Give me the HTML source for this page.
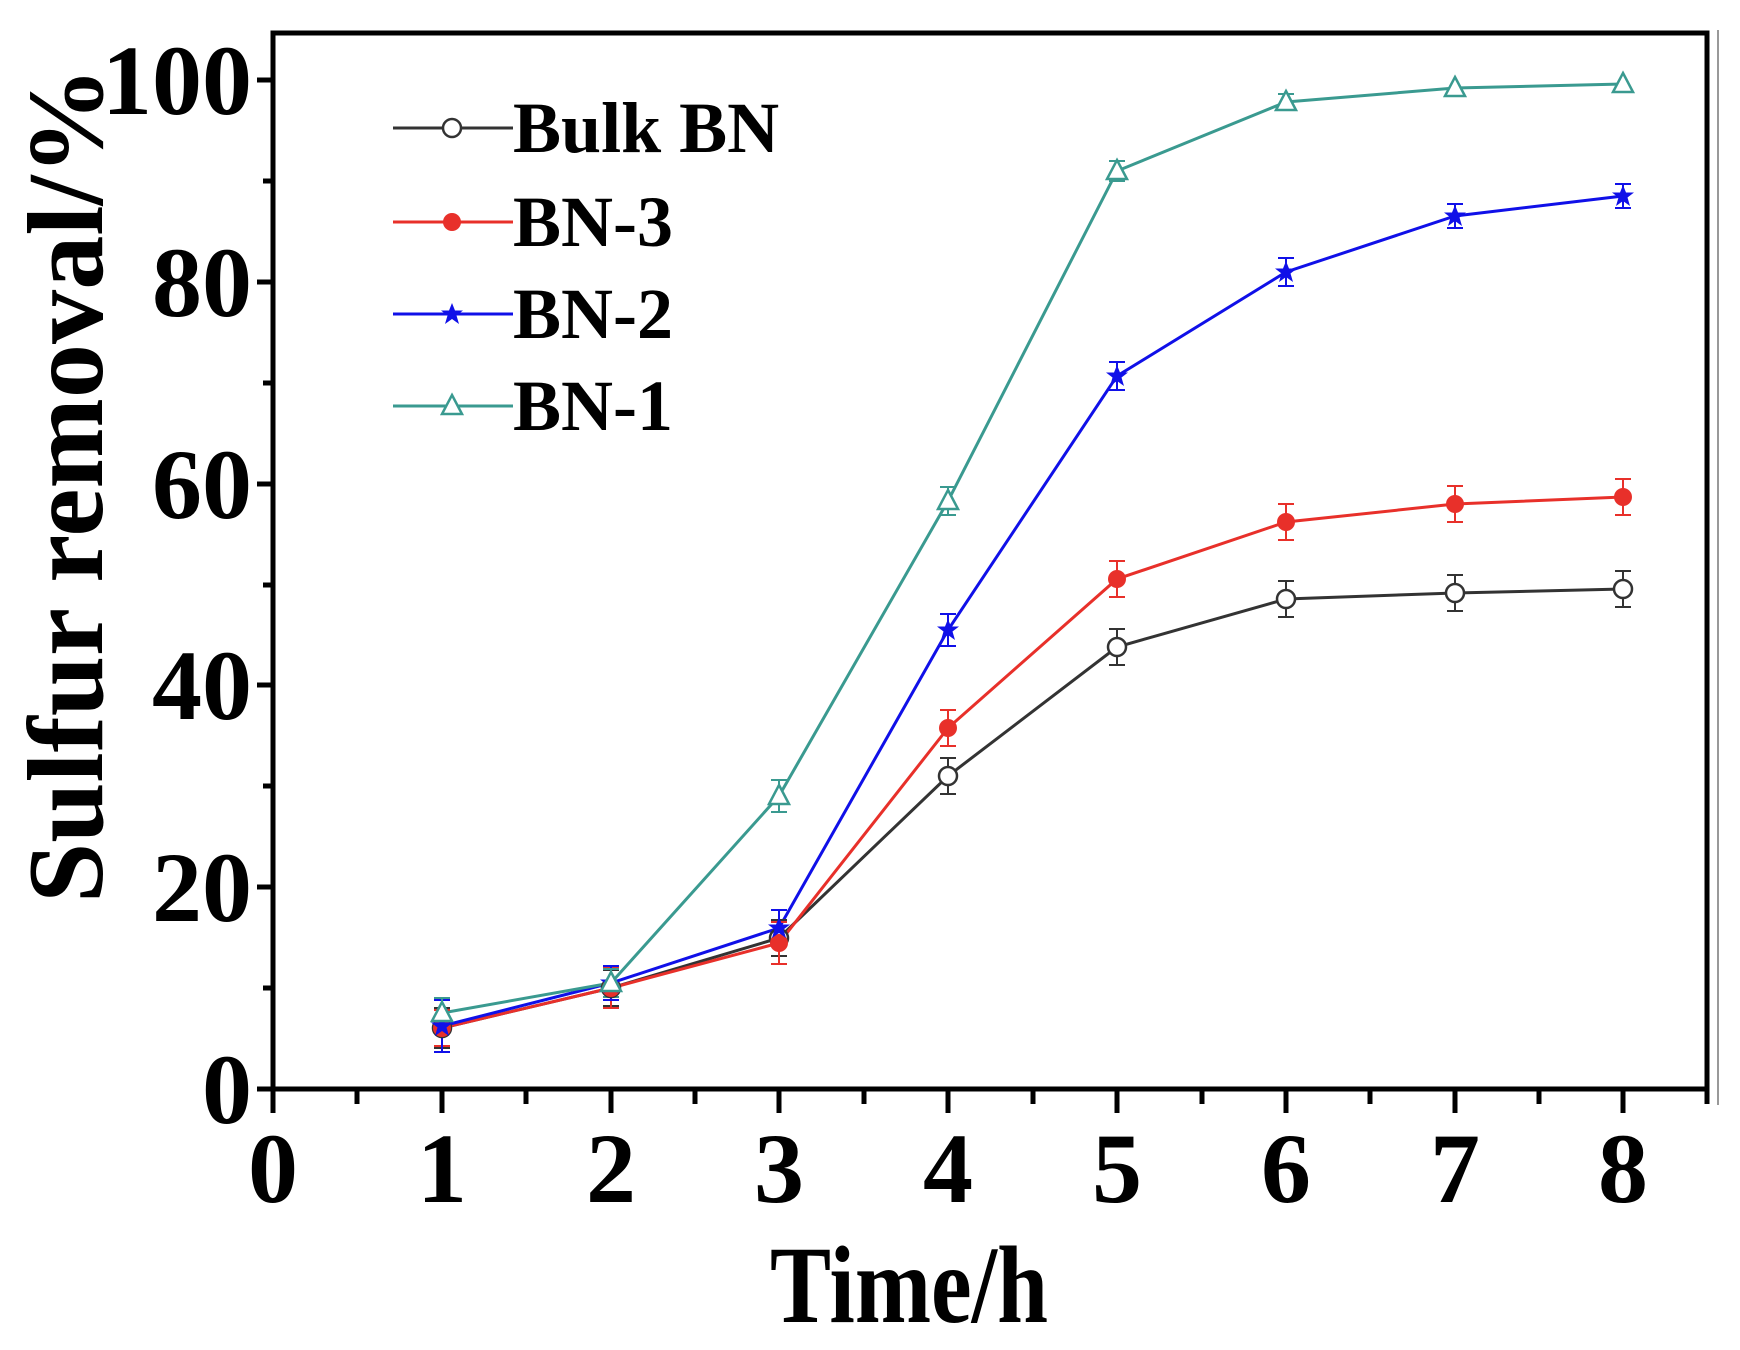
<!DOCTYPE html>
<html><head><meta charset="utf-8"><style>
html,body{margin:0;padding:0;background:#fff;}
svg{display:block;font-family:"Liberation Serif",serif;font-weight:bold;}
</style></head><body>
<svg width="1740" height="1350" viewBox="0 0 1740 1350" xmlns="http://www.w3.org/2000/svg">
<defs>
<g id="mc"><circle r="9" fill="#fff" stroke="#333" stroke-width="2.5"/></g>
<g id="mr"><circle r="9" fill="#e8302a"/></g>
<g id="mb"><polygon points="0,-11 3,-3.5 11,-3.5 4.5,1.5 7,10 0,5 -7,10 -4.5,1.5 -11,-3.5 -3,-3.5" fill="#1010e8"/></g>
<g id="mt"><polygon points="0,-11 10,8 -10,8" fill="#fff" stroke="#3a9a90" stroke-width="2.5"/></g>
</defs>
<line x1="1718" y1="30" x2="1718" y2="1105" stroke="#999" stroke-width="2"/>
<rect x="273" y="33" width="1434" height="1056" fill="none" stroke="#000" stroke-width="5"/>
<g stroke="#000" stroke-width="5">
<line x1="257" y1="1089" x2="273" y2="1089"/><line x1="257" y1="887" x2="273" y2="887"/><line x1="257" y1="685" x2="273" y2="685"/><line x1="257" y1="484" x2="273" y2="484"/><line x1="257" y1="282" x2="273" y2="282"/><line x1="257" y1="80" x2="273" y2="80"/>
<line x1="263" y1="988" x2="273" y2="988"/><line x1="263" y1="786" x2="273" y2="786"/><line x1="263" y1="585" x2="273" y2="585"/><line x1="263" y1="383" x2="273" y2="383"/><line x1="263" y1="181" x2="273" y2="181"/>
<line x1="273" y1="1089" x2="273" y2="1113"/><line x1="442" y1="1089" x2="442" y2="1113"/><line x1="611" y1="1089" x2="611" y2="1113"/><line x1="779" y1="1089" x2="779" y2="1113"/><line x1="948" y1="1089" x2="948" y2="1113"/><line x1="1117" y1="1089" x2="1117" y2="1113"/><line x1="1286" y1="1089" x2="1286" y2="1113"/><line x1="1455" y1="1089" x2="1455" y2="1113"/><line x1="1623" y1="1089" x2="1623" y2="1113"/>
<line x1="357" y1="1089" x2="357" y2="1104"/><line x1="526" y1="1089" x2="526" y2="1104"/><line x1="695" y1="1089" x2="695" y2="1104"/><line x1="864" y1="1089" x2="864" y2="1104"/><line x1="1033" y1="1089" x2="1033" y2="1104"/><line x1="1202" y1="1089" x2="1202" y2="1104"/><line x1="1370" y1="1089" x2="1370" y2="1104"/><line x1="1539" y1="1089" x2="1539" y2="1104"/><line x1="1707" y1="1089" x2="1707" y2="1104"/>
</g>
<g font-size="100" text-anchor="end" fill="#000">
<text x="252" y="1123">0</text><text x="252" y="921">20</text><text x="252" y="719">40</text><text x="252" y="518">60</text><text x="252" y="316">80</text><text x="252" y="114">100</text>
</g>
<g font-size="100" text-anchor="middle" fill="#000">
<text x="273" y="1202">0</text><text x="442" y="1202">1</text><text x="611" y="1202">2</text><text x="779" y="1202">3</text><text x="948" y="1202">4</text><text x="1117" y="1202">5</text><text x="1286" y="1202">6</text><text x="1455" y="1202">7</text><text x="1623" y="1202">8</text>
</g>
<text x="770" y="1322" font-size="110" textLength="278" lengthAdjust="spacingAndGlyphs">Time/h</text>
<text transform="translate(102,903) rotate(-90)" font-size="108" textLength="836" lengthAdjust="spacingAndGlyphs">Sulfur removal/%</text>

<g fill="none" stroke-width="3">
<polyline stroke="#333" points="442,1028 611,988 779,938 948,776 1117,647 1286,599 1455,593 1623,589"/>
<polyline stroke="#e8302a" points="442,1028 611,988 779,943 948,728 1117,579 1286,522 1455,504 1623,497"/>
<polyline stroke="#1010e8" points="442,1026 611,983 779,928 948,630 1117,376 1286,272 1455,216 1623,196"/>
<polyline stroke="#3a9a90" points="442,1013 611,983 779,796 948,501 1117,171 1286,102 1455,88 1623,84"/>
</g>
<g stroke-width="2">
<path stroke="#333" d="M442,1008v40M434,1008h16M434,1048h16 M611,970v36M603,970h16M603,1006h16 M779,920v36M771,920h16M771,956h16 M948,758v36M940,758h16M940,794h16 M1117,629v36M1109,629h16M1109,665h16 M1286,581v36M1278,581h16M1278,617h16 M1455,575v36M1447,575h16M1447,611h16 M1623,571v36M1615,571h16M1615,607h16"/>
<path stroke="#e8302a" d="M442,1010v36M434,1010h16M434,1046h16 M611,968v40M603,968h16M603,1008h16 M779,922v42M771,922h16M771,964h16 M948,710v36M940,710h16M940,746h16 M1117,561v36M1109,561h16M1109,597h16 M1286,504v36M1278,504h16M1278,540h16 M1455,486v36M1447,486h16M1447,522h16 M1623,479v36M1615,479h16M1615,515h16"/>
<path stroke="#1010e8" d="M442,1000v52M434,1000h16M434,1052h16 M611,966v34M603,966h16M603,1000h16 M779,910v36M771,910h16M771,946h16 M948,614v32M940,614h16M940,646h16 M1117,362v28M1109,362h16M1109,390h16 M1286,258v28M1278,258h16M1278,286h16 M1455,204v24M1447,204h16M1447,228h16 M1623,184v24M1615,184h16M1615,208h16"/>
<path stroke="#3a9a90" d="M442,998v30M434,998h16M434,1028h16 M611,969v28M603,969h16M603,997h16 M779,780v32M771,780h16M771,812h16 M948,487v28M940,487h16M940,515h16 M1117,161v20M1109,161h16M1109,181h16 M1286,94v16M1278,94h16M1278,110h16"/>
</g>
<g>
<use href="#mc" x="442" y="1028"/><use href="#mc" x="611" y="988"/><use href="#mc" x="779" y="938"/><use href="#mc" x="948" y="776"/><use href="#mc" x="1117" y="647"/><use href="#mc" x="1286" y="599"/><use href="#mc" x="1455" y="593"/><use href="#mc" x="1623" y="589"/>
<use href="#mr" x="442" y="1028"/><use href="#mr" x="611" y="988"/><use href="#mr" x="779" y="943"/><use href="#mr" x="948" y="728"/><use href="#mr" x="1117" y="579"/><use href="#mr" x="1286" y="522"/><use href="#mr" x="1455" y="504"/><use href="#mr" x="1623" y="497"/>
<use href="#mb" x="442" y="1026"/><use href="#mb" x="611" y="983"/><use href="#mb" x="779" y="928"/><use href="#mb" x="948" y="630"/><use href="#mb" x="1117" y="376"/><use href="#mb" x="1286" y="272"/><use href="#mb" x="1455" y="216"/><use href="#mb" x="1623" y="196"/>
<use href="#mt" x="442" y="1013"/><use href="#mt" x="611" y="983"/><use href="#mt" x="779" y="796"/><use href="#mt" x="948" y="501"/><use href="#mt" x="1117" y="171"/><use href="#mt" x="1286" y="102"/><use href="#mt" x="1455" y="88"/><use href="#mt" x="1623" y="84"/>
</g>
<g stroke-width="3">
<line x1="393" y1="128" x2="513" y2="128" stroke="#333"/>
<line x1="393" y1="222" x2="513" y2="222" stroke="#e8302a"/>
<line x1="393" y1="314" x2="513" y2="314" stroke="#1010e8"/>
<line x1="393" y1="406" x2="513" y2="406" stroke="#3a9a90"/>
</g>
<use href="#mc" x="452" y="128"/><use href="#mr" x="452" y="222"/><use href="#mb" x="452" y="314"/><use href="#mt" x="452" y="406"/>
<g font-size="72" fill="#000">
<text x="513" y="152">Bulk BN</text>
<text x="513" y="246">BN-3</text>
<text x="513" y="338">BN-2</text>
<text x="513" y="430">BN-1</text>
</g>
</svg>
</body></html>
